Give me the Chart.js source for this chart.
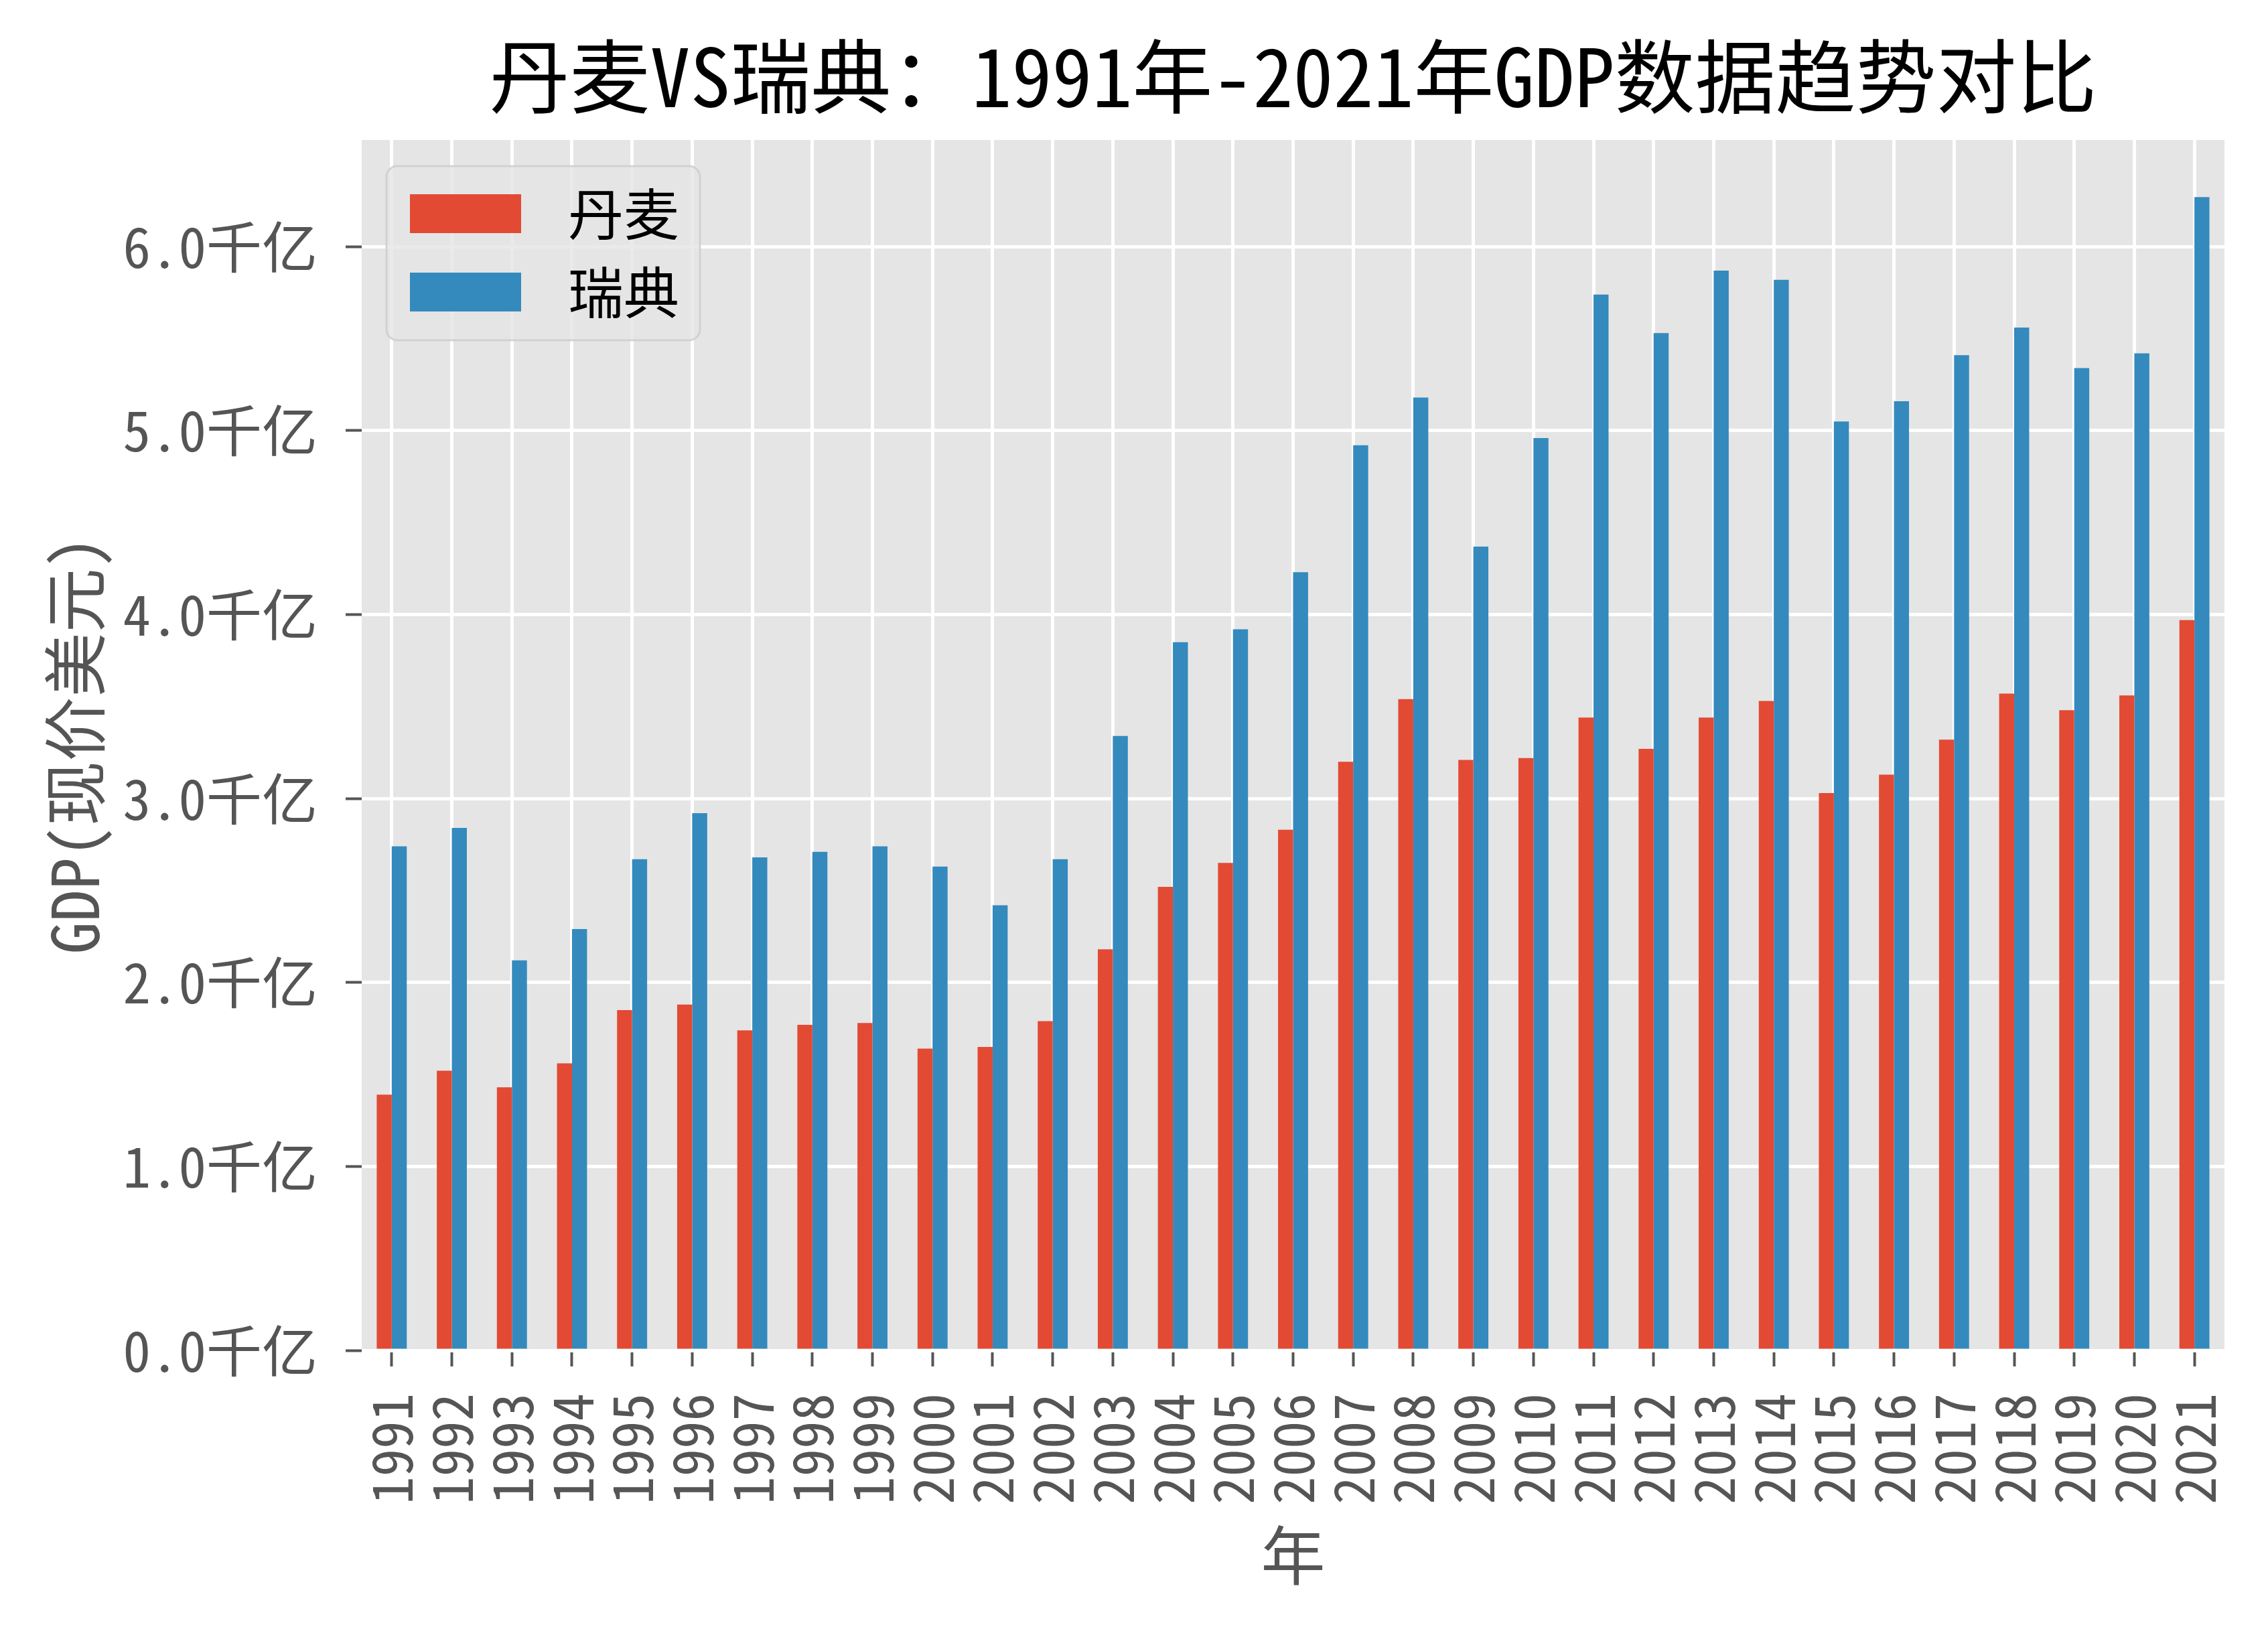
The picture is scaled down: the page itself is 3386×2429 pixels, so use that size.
<!DOCTYPE html>
<html>
<head>
<meta charset="utf-8">
<script src="https://cdn.jsdelivr.net/npm/chart.js@4.4.1/dist/chart.umd.min.js"></script>
<style>
  html, body { margin: 0; padding: 0; background: #fff; }
  canvas { display: block; }
</style>
</head>
<body>
<canvas id="chart" width="3386" height="2429"></canvas>
<script>
const years = ['1991', '1992', '1993', '1994', '1995', '1996', '1997', '1998', '1999', '2000',
  '2001', '2002', '2003', '2004', '2005', '2006', '2007', '2008', '2009', '2010',
  '2011', '2012', '2013', '2014', '2015', '2016', '2017', '2018', '2019', '2020', '2021'];

// GDP, units of 千亿 (100 billion USD)
const denmark = [1.39, 1.52, 1.43, 1.56, 1.85, 1.88, 1.74, 1.77, 1.78, 1.64,
  1.65, 1.79, 2.18, 2.52, 2.65, 2.83, 3.20, 3.54, 3.21, 3.22,
  3.44, 3.27, 3.44, 3.53, 3.03, 3.13, 3.32, 3.57, 3.48, 3.56, 3.97];
const sweden = [2.74, 2.84, 2.12, 2.29, 2.67, 2.92, 2.68, 2.71, 2.74, 2.63,
  2.42, 2.67, 3.34, 3.85, 3.92, 4.23, 4.92, 5.18, 4.37, 4.96,
  5.74, 5.53, 5.87, 5.82, 5.05, 5.16, 5.41, 5.56, 5.34, 5.42, 6.27];

const yTicks = [0, 1, 2, 3, 4, 5, 6];

const FONT = '"Noto Sans Mono CJK SC", "Noto Sans CJK SC", sans-serif';
const GREY = '#555555';

// plot panel background + white figure
const panel = {
  id: 'panel',
  beforeDraw(chart) {
    const { ctx, chartArea: a } = chart;
    ctx.save();
    ctx.fillStyle = '#ffffff';
    ctx.fillRect(0, 0, chart.width, chart.height);
    ctx.fillStyle = '#E5E5E5';
    ctx.fillRect(a.left, a.top, a.right - a.left, a.bottom - a.top);
    ctx.restore();
  }
};

// matplotlib-like legend box in the upper left of the plot
const boxLegend = {
  id: 'boxLegend',
  afterDatasetsDraw(chart) {
    const { ctx, chartArea: a } = chart;
    const x = a.left + 37, y = a.top + 39, w = 468, h = 260, r = 16;
    ctx.save();
    ctx.beginPath();
    ctx.roundRect(x, y, w, h, r);
    ctx.fillStyle = 'rgba(229,229,229,0.8)';
    ctx.fill();
    ctx.lineWidth = 3;
    ctx.strokeStyle = 'rgba(204,204,204,0.8)';
    ctx.stroke();
    ctx.font = '83px ' + FONT;
    ctx.textBaseline = 'middle';
    chart.data.datasets.forEach((ds, i) => {
      const cy = y + 71 + i * 117;
      ctx.fillStyle = ds.backgroundColor;
      ctx.fillRect(x + 35, cy - 29, 166, 58);
      ctx.fillStyle = '#000000';
      ctx.fillText(ds.label, x + 271, cy);
    });
    ctx.restore();
  }
};

new Chart(document.getElementById('chart'), {
  type: 'bar',
  data: {
    labels: years,
    datasets: [
      { label: '丹麦', data: denmark, backgroundColor: '#E24A33' },
      { label: '瑞典', data: sweden, backgroundColor: '#348ABD' }
    ]
  },
  options: {
    responsive: false,
    animation: false,
    devicePixelRatio: 1,
    categoryPercentage: 0.5,
    barPercentage: 1.0,
    layout: { padding: { left: 0, right: 65, top: 0, bottom: 0 } },
    plugins: {
      legend: { display: false },
      tooltip: { enabled: false },
      title: {
        display: true,
        fullSize: false,
        text: '丹麦VS瑞典：1991年-2021年GDP数据趋势对比',
        color: '#000000',
        font: { family: FONT, size: 120, weight: 'normal' },
        padding: { top: 42, bottom: 23 }
      }
    },
    scales: {
      x: {
        offset: true,
        afterFit: s => {
          s.height = 413;
          s.paddingLeft = 0;
          s.paddingRight = 0;
        },
        border: { display: false },
        grid: {
          offset: false,
          color: '#ffffff',
          lineWidth: 5,
          tickColor: GREY,
          tickLength: 24,
          tickWidth: 4
        },
        ticks: {
          autoSkip: false,
          maxRotation: 90,
          minRotation: 90,
          padding: 40,
          color: GREY,
          font: { family: FONT, size: 83 }
        },
        title: {
          display: true,
          text: '年',
          color: GREY,
          font: { family: FONT, size: 96 },
          padding: { top: 0, bottom: 50 }
        }
      },
      y: {
        min: 0,
        max: 6.58,
        afterFit: s => {
          s.width = 540;
          s.paddingTop = 0;
          s.paddingBottom = 0;
        },
        afterBuildTicks: s => { s.ticks = yTicks.map(v => ({ value: v })); },
        border: { display: false },
        grid: {
          color: '#ffffff',
          lineWidth: 5,
          tickColor: GREY,
          tickLength: 24,
          tickWidth: 4
        },
        ticks: {
          padding: 42,
          color: GREY,
          font: { family: FONT, size: 83 },
          callback: v => v.toFixed(1) + '千亿'
        },
        title: {
          display: true,
          text: 'GDP(现价美元)',
          color: GREY,
          font: { family: FONT, size: 96 },
          padding: { top: 54, bottom: 0 }
        }
      }
    }
  },
  plugins: [panel, boxLegend]
});
</script>
</body>
</html>
